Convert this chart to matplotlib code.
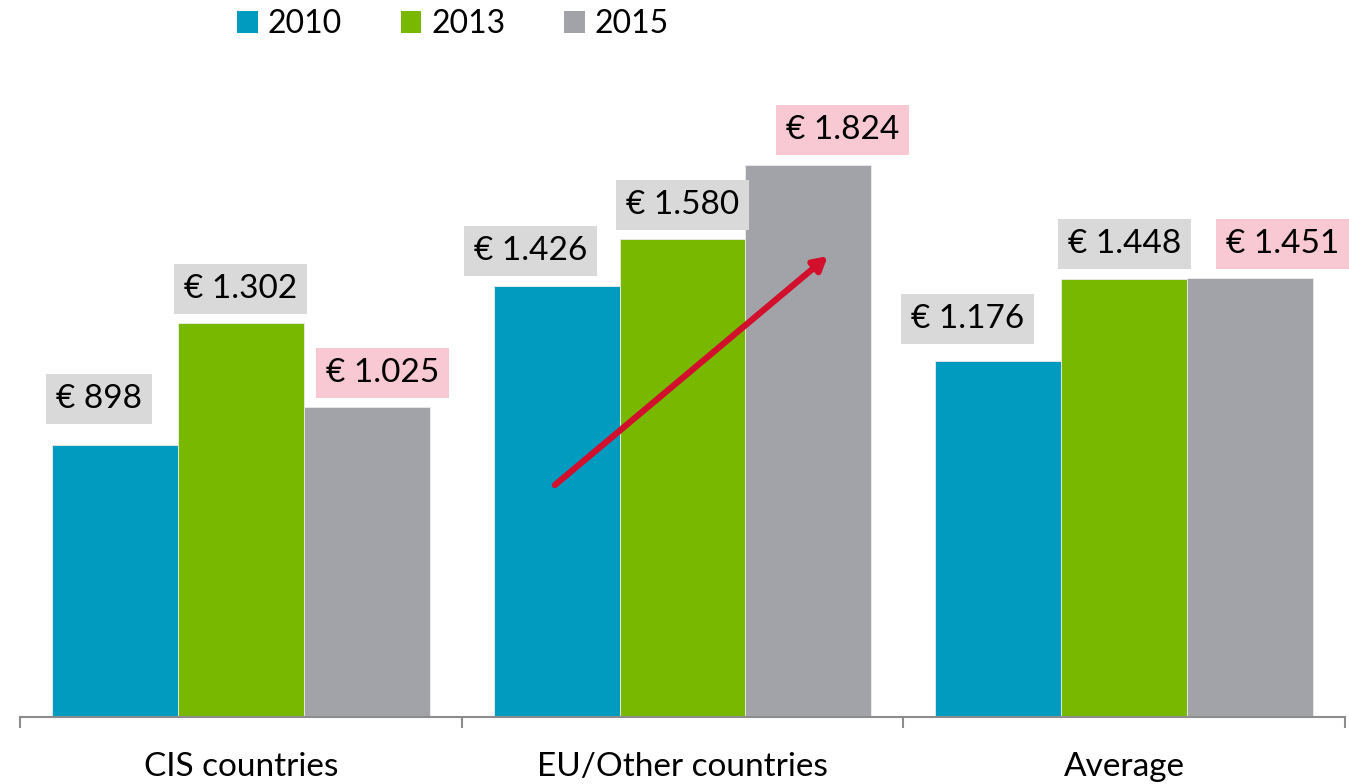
import numpy as np
import matplotlib.pyplot as plt
from matplotlib.patches import Patch

plt.rcParams["font.family"] = ["Lato", "DejaVu Sans"]

# data
categories = ["CIS countries", "EU/Other countries", "Average"]
years = ["2010", "2013", "2015"]
values_2010 = [898, 1426, 1176]
values_2013 = [1302, 1580, 1448]
values_2015 = [1025, 1824, 1451]
pink_labels = [False, False, True]  # 2015 labels get the pink box

# styling
colors = ["#009bbf", "#78b900", "#a2a3a8"]
box_grey = "#d9d9d9"
box_pink = "#f9c9d3"
arrow_red = "#d20f2c"
axis_grey = "#8c8c8c"

# label offsets (pixels) relative to the top of each bar, [series][category]
label_dx = [[-16, -26, -31], [0, 0, 0], [16, 34, 33]]
label_dy = [[46, 35, 42], [34, 34, 35], [34, 35, 34]]

# arrow in data coordinates (x = group position, y = value)
arrow_start = (0.711, 767)
arrow_end = (1.329, 1524)

W, H, DPI = 1349, 784, 100
fig = plt.figure(figsize=(W / DPI, H / DPI), dpi=DPI)
ax = fig.add_axes([20 / W, 67 / H, 1325 / W, 666 / H])

x = np.arange(len(categories))
width = 0.285
series = [values_2010, values_2013, values_2015]
px2pt = 72 / DPI

for si, vals in enumerate(series):
    xs = x + (si - 1) * width
    ax.bar(xs, vals, width, color=colors[si], edgecolor="#ececec", linewidth=0.6, zorder=2)
    for ci, v in enumerate(vals):
        txt = f"€ {v:,}".replace(",", ".")
        ax.annotate(
            txt,
            (xs[ci], v),
            xytext=(label_dx[si][ci] * px2pt, label_dy[si][ci] * px2pt),
            textcoords="offset points",
            ha="center",
            va="center",
            fontsize=24,
            color="black",
            bbox=dict(boxstyle="square,pad=0.3", fc=box_pink if pink_labels[si] else box_grey, ec="none"),
            zorder=3,
        )

ax.annotate(
    "",
    xy=arrow_end,
    xytext=arrow_start,
    arrowprops=dict(arrowstyle="-|>,head_length=0.8,head_width=0.45", color=arrow_red, lw=4.5,
                    shrinkA=0, shrinkB=0),
    zorder=4,
)

ax.set_xlim(-0.5, 2.5)
ax.set_ylim(0, 666 / 0.3024)
ax.set_yticks([])
for s in ["top", "right", "left"]:
    ax.spines[s].set_visible(False)
ax.spines["bottom"].set_color(axis_grey)
ax.spines["bottom"].set_linewidth(1.5)

ax.set_xticks(x)
ax.set_xticklabels(categories, fontsize=24)
ax.tick_params(axis="x", which="major", length=0, pad=25)
ax.set_xticks([-0.5, 0.5, 1.5, 2.5], minor=True)
ax.tick_params(axis="x", which="minor", length=8, width=1.5, color=axis_grey)

handles = [Patch(facecolor=c, edgecolor="none") for c in colors]
fig.legend(handles, years, loc="center left", bbox_to_anchor=(237 / W, 1 - 24 / H), ncol=3,
           frameon=False, fontsize=23, handlelength=0.65, handleheight=0.7,
           handletextpad=0.3, columnspacing=1.85, borderpad=0, borderaxespad=0)

fig.savefig("out.png", dpi=DPI)
